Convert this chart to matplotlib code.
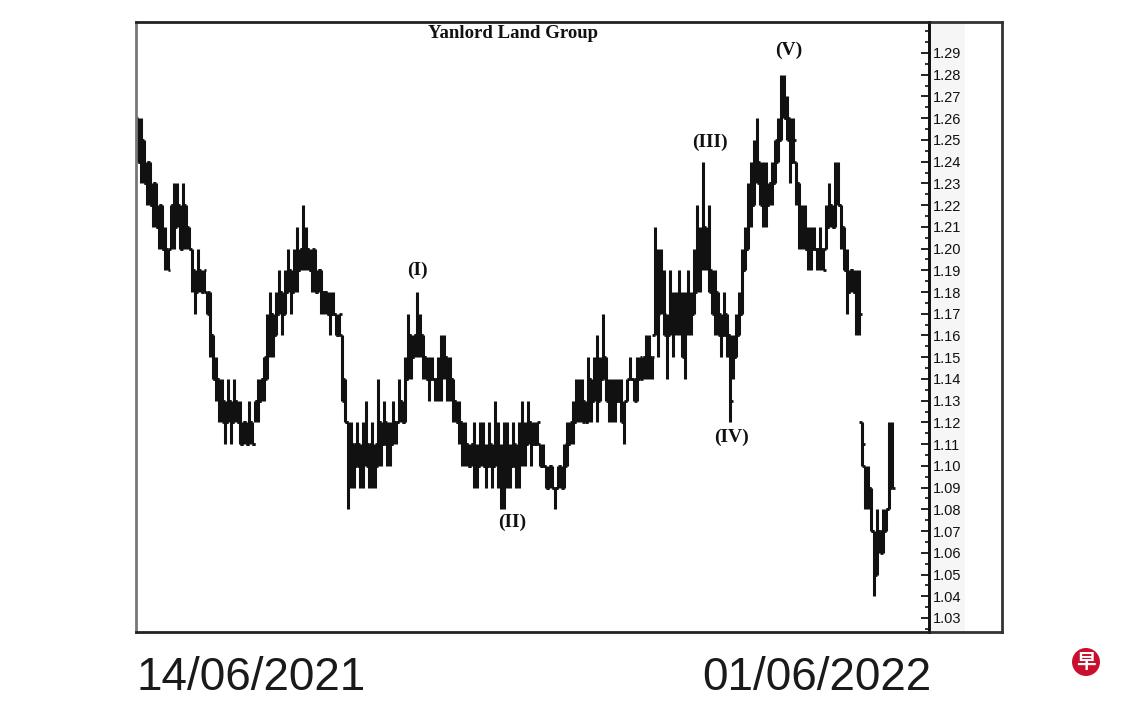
import matplotlib
matplotlib.use("Agg")
import matplotlib.pyplot as plt
import numpy as np
from matplotlib.patches import Rectangle, Ellipse

# ---- data (prices in cents above 1.00) ----
highs = [26,26,25,24,24, 23,23,22,22,21, 20,22,23,23,22, 23,22,21,20,19,
         20,19,19,18,18, 16,15,14,14,13, 14,13,14,13,13, 12,12,13,12,13,
         14,14,15,17,18, 17,18,19,18,19, 20,19,20,21,20, 22,21,20,20,20,
         19,19,18,18,18, 18,17,17,16,14, 12,12,11,12,11, 12,13,11,12,11,
         14,12,13,12,12, 13,12,14,13,15, 17,16,16,18,17, 16,15,15,15,14,
         15,16,16,15,15, 14,13,13,12,12, 11,11,12,11,12, 12,11,12,11,13,
         12,11,12,12,11, 12,11,12,13,12, 13,12,12,12,11, 11,10,10,10,9,
         10,10,11,12,12, 13,14,14,14,13, 15,14,15,16,15, 17,15,14,14,14,
         14,14,13,14,15, 14,15,15,15,16, 16,15,21,20,20, 19,17,19,18,18,
         19,18,18,19,18, 20,22,21,24,21, 22,19,19,18,17, 18,17,16,16,17,
         18,20,21,23,24, 25,26,24,24,24, 23,24,25,26,28, 28,27,26,26,24,
         23,22,22,21,21, 21,20,21,20,22, 23,22,24,24,22, 21,20,19,19,19,
         19, 12,10,10,9,7,8,7,8,8,12,12]
lows = [24,23,23,22,22, 21,21,20,20,19, 19,20,20,21,20, 20,20,20,18,17,
        18,18,18,17,15, 14,13,12,12,11, 12,11,12,12,11, 11,11,11,11,12,
        12,13,13,14,15, 15,16,17,16,17, 18,17,18,18,19, 19,19,19,18,18,
        18,17,17,17,16, 17,16,16,13,12, 8,9,9,10,9, 9,10,9,9,9,
        10,10,11,10,10, 11,11,12,12,12, 14,14,15,15,15, 14,14,13,14,13,
        13,13,14,13,13, 12,12,11,10,10, 10,10,9,9,10, 10,9,10,9,10,
        9,8,8,9,9, 10,9,9,10,10, 11,10,11,11,10, 10,9,9,9,8,
        9,9,9,10,11, 11,12,12,12,12, 12,12,13,12,13, 14,13,12,12,12,
        13,12,11,13,14, 13,13,14,14,14, 14,14,16,15,17, 16,14,16,15,16,
        16,15,14,16,16, 17,18,18,19,19, 18,17,16,16,15, 16,15,12,14,15,
        16,17,19,20,21, 22,23,22,21,21, 22,22,23,24,25, 26,25,23,24,22,
        20,20,20,19,19, 20,19,19,19,20, 21,21,21,22,20, 19,17,18,18,16,
        16, 10,8,8,7,4,5,6,6,7,8,9]
opens = [26,24,25,23,24, 22,23,21,22,20, 20,20,22,21,22, 20,22,21,20,19,
         18,19,18,18,18, 16,14,14,13,13, 12,13,12,13,12, 11,12,11,12,11,
         13,13,14,15,16, 17,16,17,18,17, 18,19,18,19,19, 20,20,20,19,19,
         18,19,18,18,17, 17,17,16,16,13, 12,10,10,11,10, 10,11,10,11,10,
         10,12,11,11,11, 11,12,12,13,12, 14,16,15,16,16, 16,15,14,14,14,
         14,14,15,15,14, 14,13,12,12,11, 11,10,11,10,10, 11,10,10,10,10,
         11,10,9,10,10, 10,10,10,11,11, 11,12,11,11,11, 10,10,9,10,9,
         9,10,9,11,11, 12,12,13,13,13, 12,14,13,14,14, 14,14,13,13,13,
         13,13,12,13,14, 14,13,14,14,15, 15,15,16,19,18, 18,16,16,17,17,
         17,17,15,17,17, 17,18,19,20,21, 20,18,17,17,16, 16,16,16,15,15,
         16,17,19,20,22, 22,24,23,22,23, 22,23,23,25,25, 27,26,25,24,24,
         23,21,21,20,20, 20,20,20,20,20, 21,22,21,23,22, 21,19,18,19,18,
         18, 12,10,9,9,7,6,7,7,7,8,9]
closes = [24,25,23,24,22, 23,21,22,20,20, 19,22,21,22,20, 22,21,20,19,18,
          19,18,19,17,16, 14,14,13,12,12, 13,12,13,12,11, 12,11,12,11,13,
          13,14,14,16,17, 16,17,18,17,18, 19,18,19,19,20, 20,20,19,20,18,
          19,18,18,17,17, 17,16,17,14,12, 10,11,10,11,10, 11,11,10,10,11,
          12,11,12,11,11, 12,12,13,12,14, 16,15,16,16,16, 15,14,14,14,14,
          14,15,15,14,14, 13,12,12,11,11, 10,11,10,10,11, 10,10,11,10,11,
          10,9,10,10,10, 11,10,11,11,11, 12,11,11,12,10, 10,9,10,9,9,
          10,9,10,11,12, 12,13,13,12,12, 14,13,14,13,14, 15,13,13,13,13,
          13,12,13,14,14, 14,14,15,15,15, 15,15,19,17,18, 17,16,17,17,17,
          17,16,17,17,17, 18,20,20,21,20, 19,18,18,17,16, 17,16,13,15,16,
          17,19,20,22,22, 24,24,23,23,22, 23,23,24,25,27, 26,26,24,25,23,
          21,21,20,20,20, 20,20,20,19,21, 22,21,23,22,21, 19,18,19,18,17,
          17, 11,9,9,7,5,7,6,7,8,11,9]

price_ticks = [1.03, 1.04, 1.05, 1.06, 1.07, 1.08, 1.09, 1.10, 1.11, 1.12, 1.13,
               1.14, 1.15, 1.16, 1.17, 1.18, 1.19, 1.20, 1.21, 1.22, 1.23, 1.24,
               1.25, 1.26, 1.27, 1.28, 1.29]
title = "Yanlord Land Group"
date_labels = ["14/06/2021", "01/06/2022"]
wave_labels = ["(I)", "(II)", "(III)", "(IV)", "(V)"]
wave_pos = [(93, 1.190), (124.5, 1.074), (190.5, 1.249), (197.5, 1.113), (216.5, 1.291)]

H = 1 + np.array(highs) / 100
L = 1 + np.array(lows) / 100
O = 1 + np.array(opens) / 100
C = 1 + np.array(closes) / 100
x = np.arange(len(H))

W, Hpx = 1140, 712
fig = plt.figure(figsize=(W / 100, Hpx / 100), dpi=100)
fig.patch.set_facecolor("white")

def fx(px):
    return px / W

def fy(py):
    return 1 - py / Hpx

# right price panel (outer frame)
pan = fig.add_axes([fx(929), fy(632), fx(1002) - fx(929), fy(22) - fy(632)])
pan.set_xticks([]); pan.set_yticks([])
pan.set_facecolor("none")
for s in pan.spines.values():
    s.set_color("#333333"); s.set_linewidth(2)
pan.add_patch(Rectangle((0, 0), 36 / 73, 1, transform=pan.transAxes,
                        facecolor="#f6f6f6", edgecolor="none"))

ax = fig.add_axes([fx(136), fy(632), fx(929) - fx(136), fy(22) - fy(632)])
ax.set_facecolor("none")
col = "#111111"
ax.vlines(x, L, H, color=col, lw=2.2)
ax.hlines(O, x - 0.95, x, color=col, lw=2.0)
ax.hlines(C, x, x + 0.95, color=col, lw=2.0)

ax.set_xlim(-0.5, 263.3)
y0 = 1.29 - (632 - 53) / 21.73 * 0.01
y1 = 1.29 + (53 - 22) / 21.73 * 0.01
ax.set_ylim(y0, y1)
ax.set_xticks([])
ax.yaxis.tick_right()
ax.set_yticks(price_ticks)
ax.set_yticklabels([f"{v:.2f}" for v in price_ticks], family="Liberation Sans",
                   fontsize=10.5, color="#111111")
ax.set_yticks(np.arange(1.025, 1.30, 0.005), minor=True)
ax.tick_params(axis="y", which="major", direction="in", length=6, width=1.3,
               pad=3, colors="#111111")
ax.tick_params(axis="y", which="minor", direction="in", length=3, width=1.2,
               colors="#111111")
ax.spines["left"].set_color("#777777"); ax.spines["left"].set_linewidth(2)
ax.spines["top"].set_color("#222222"); ax.spines["top"].set_linewidth(2)
ax.spines["bottom"].set_color("#222222"); ax.spines["bottom"].set_linewidth(2)
ax.spines["right"].set_color("#111111"); ax.spines["right"].set_linewidth(2)

for lab, (px_, py_) in zip(wave_labels, wave_pos):
    ax.text(px_, py_, lab, ha="center", va="center", family="Liberation Serif",
            fontweight="bold", fontsize=14, color="#111111")

fig.text(fx(513), fy(33), title, ha="center", va="center",
         family="Liberation Serif", fontweight="bold", fontsize=13.5, color="#111111")

fig.text(fx(137), fy(678), date_labels[0], ha="left", va="center",
         family="Liberation Sans", fontsize=33, color="#1a1a1a")
fig.text(fx(931), fy(678), date_labels[1], ha="right", va="center",
         family="Liberation Sans", fontsize=33, color="#1a1a1a")

# logo
r = 14
ell = Ellipse((fx(1086), fy(662)), 2 * r / W, 2 * r / Hpx, transform=fig.transFigure,
              facecolor="#c8102e", edgecolor="none")
fig.patches.append(ell)
fig.text(fx(1086), fy(662), "早", ha="center", va="center",
         family=["Noto Sans CJK SC", "DejaVu Sans"], fontweight="bold",
         fontsize=14, color="white")

fig.savefig("out.png", dpi=100, facecolor="white")
